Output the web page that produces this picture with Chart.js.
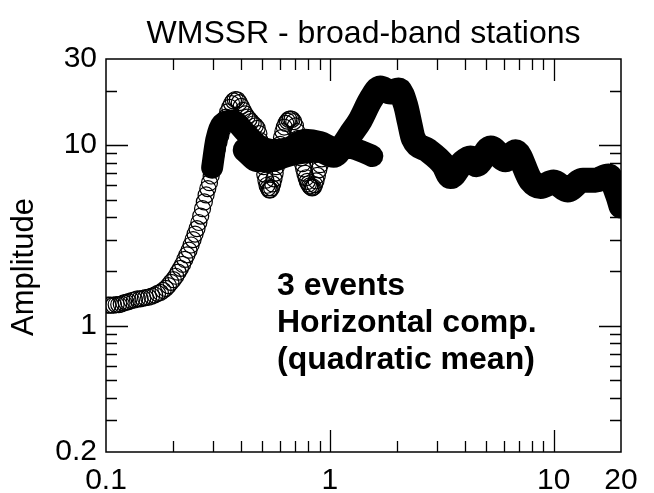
<!DOCTYPE html>
<html>
<head>
<meta charset="utf-8">
<script src="https://cdn.jsdelivr.net/npm/chart.js@4.4.1/dist/chart.umd.min.js"></script>
<style>
  html, body { margin: 0; padding: 0; background: #fff; }
  #graficoAmplitude { display: block; }
</style>
</head>
<body>
<canvas id="graficoAmplitude" width="654" height="493"></canvas>
<script>
// ---------------------------------------------------------------------------
// Dados
// ---------------------------------------------------------------------------
const tituloGrafico = "WMSSR - broad-band stations";
const tituloEixoY = "Amplitude";
const textoNota = ["3 events", "Horizontal comp.", "(quadratic mean)"];

const ticksX = [0.1, 1, 10, 20];
const ticksY = [0.2, 1, 10, 30];

// evento 1: círculos abertos
const freqEvento1 = [0.102, 0.105, 0.108, 0.111, 0.114, 0.117, 0.120, 0.123, 0.126, 0.130,
  0.134, 0.138, 0.142, 0.146, 0.150, 0.155, 0.160, 0.165, 0.170, 0.175,
  0.180, 0.185, 0.190, 0.195, 0.200, 0.205, 0.210, 0.215, 0.220, 0.225,
  0.230, 0.235, 0.240, 0.245, 0.250, 0.255, 0.260, 0.265, 0.270, 0.275,
  0.280, 0.285, 0.290, 0.295, 0.300, 0.305, 0.310, 0.315, 0.320, 0.326,
  0.332, 0.338, 0.344, 0.350, 0.357, 0.364, 0.371, 0.378, 0.386, 0.394,
  0.402, 0.410, 0.418, 0.427, 0.436, 0.445, 0.455, 0.465, 0.474, 0.482,
  0.488, 0.494, 0.500, 0.506, 0.512, 0.518, 0.524, 0.530, 0.536, 0.542,
  0.549, 0.556, 0.563, 0.570, 0.577, 0.584, 0.592, 0.600, 0.608, 0.617,
  0.626, 0.636, 0.646, 0.656, 0.667, 0.678, 0.690, 0.702, 0.713, 0.722,
  0.730, 0.738, 0.746, 0.755, 0.764, 0.773, 0.783, 0.793, 0.803, 0.813,
  0.823, 0.834, 0.845, 0.856, 0.868, 0.880, 0.893, 0.906, 0.920, 0.937, 0.955];
const ampEvento1 = [1.30, 1.30, 1.30, 1.31, 1.31, 1.32, 1.34, 1.35, 1.36, 1.38,
  1.39, 1.41, 1.41, 1.42, 1.43, 1.44, 1.46, 1.48, 1.51, 1.53,
  1.57, 1.61, 1.67, 1.74, 1.80, 1.88, 1.98, 2.08, 2.19, 2.33,
  2.47, 2.62, 2.80, 3.00, 3.22, 3.45, 3.73, 4.05, 4.45, 4.85,
  5.30, 5.75, 6.20, 6.75, 7.35, 8.1, 8.8, 9.6, 10.4, 11.3,
  12.2, 13.2, 14.3, 15.3, 16.2, 17.0, 17.6, 17.9, 17.8, 17.2,
  16.4, 15.6, 14.9, 14.3, 13.9, 13.5, 13.1, 12.8, 12.4, 11.6,
  10.6, 9.5, 8.5, 7.6, 6.9, 6.4, 6.0, 5.8, 5.65, 5.65,
  5.8, 6.1, 6.5, 7.0, 7.6, 8.3, 9.2, 10.1, 11.0, 11.9,
  12.6, 13.2, 13.6, 13.9, 14.0, 13.9, 13.5, 12.8, 11.9, 10.9,
  10.0, 9.2, 8.5, 7.9, 7.4, 7.0, 6.6, 6.3, 6.1, 5.95,
  5.85, 5.8, 5.85, 6.05, 6.35, 6.8, 7.3, 7.8, 8.4, 8.9, 9.4];

// evento 2: faixa preta curta
const freqEvento2 = [0.298, 0.311, 0.330, 0.366, 0.419, 0.479, 0.553, 0.652, 0.777, 0.907, 1.058, 1.235, 1.40, 1.55];
const ampEvento2 = [7.5, 10.7, 13.1, 13.7, 11.8, 10.0, 9.4, 9.65, 10.7, 10.4, 9.65, 9.65, 9.2, 8.7];

// evento 3: faixa preta até 20 Hz
const freqEvento3 = [0.419, 0.479, 0.542, 0.632, 0.738, 0.888, 1.04, 1.15, 1.235, 1.37,
  1.52, 1.68, 1.87, 2.03, 2.18, 2.27, 2.36, 2.73, 3.22, 3.46,
  3.92, 4.25, 4.52, 5.23, 6.10, 6.76, 7.89, 8.75, 10.0, 11.55,
  13.5, 15.4, 17.6, 19.3, 20.0];
const ampEvento3 = [9.4, 8.3, 8.3, 8.8, 9.2, 9.4, 8.8, 10.0, 11.4, 13.8,
  17.8, 20.7, 19.7, 20.2, 16.7, 13.4, 10.9, 9.4, 7.8, 6.7,
  8.0, 8.5, 7.8, 9.65, 8.3, 9.2, 6.4, 5.9, 6.25, 5.65,
  6.4, 6.4, 6.75, 5.3, 4.6];

const pares = (xs, ys) => xs.map((x, i) => ({ x: x, y: ys[i] }));

const FONTE = '"Liberation Sans", Arial, sans-serif';

// ---------------------------------------------------------------------------
// Plugin: moldura, marcas internas e textos
// ---------------------------------------------------------------------------
const molduraPlugin = {
  id: "moldura",
  afterDraw(chart) {
    const ctx = chart.ctx;
    const area = chart.chartArea;
    const sx = chart.scales.x;
    const sy = chart.scales.y;

    ctx.save();
    ctx.strokeStyle = "#000";
    ctx.lineWidth = 1.5;
    ctx.strokeRect(area.left, area.top, area.right - area.left, area.bottom - area.top);

    // marcas no eixo x (baixo e topo)
    ctx.lineWidth = 1.3;
    [0.1, 1, 10].forEach((dec) => {
      for (let m = 1; m <= 9; m++) {
        const v = dec * m;
        if (v <= sx.min || v >= sx.max) continue;
        const px = Math.round(sx.getPixelForValue(v)) + 0.5;
        const len = m === 1 ? 22 : 11;
        ctx.beginPath();
        ctx.moveTo(px, area.bottom);
        ctx.lineTo(px, area.bottom - len);
        ctx.moveTo(px, area.top);
        ctx.lineTo(px, area.top + len);
        ctx.stroke();
      }
    });

    // marcas no eixo y (esquerda e direita)
    [0.1, 1, 10].forEach((dec) => {
      for (let m = 1; m <= 9; m++) {
        const v = dec * m;
        if (v <= sy.min || v >= sy.max) continue;
        const py = Math.round(sy.getPixelForValue(v)) + 0.5;
        const len = m === 1 ? 22 : 11;
        ctx.beginPath();
        ctx.moveTo(area.left, py);
        ctx.lineTo(area.left + len, py);
        ctx.moveTo(area.right, py);
        ctx.lineTo(area.right - len, py);
        ctx.stroke();
      }
    });

    // rótulos
    ctx.fillStyle = "#000";
    ctx.font = "30px " + FONTE;
    ctx.textAlign = "center";
    ctx.textBaseline = "top";
    ticksX.forEach((v) => {
      ctx.fillText(String(v), sx.getPixelForValue(v), area.bottom + 14);
    });
    ctx.textAlign = "right";
    ctx.textBaseline = "middle";
    ticksY.forEach((v) => {
      ctx.fillText(String(v), area.left - 9, sy.getPixelForValue(v));
    });

    // título do eixo y
    ctx.save();
    ctx.translate(24, 267);
    ctx.rotate(-Math.PI / 2);
    ctx.textAlign = "center";
    ctx.textBaseline = "middle";
    ctx.font = "31px " + FONTE;
    ctx.fillText(tituloEixoY, 0, 0);
    ctx.restore();

    // título
    ctx.textAlign = "center";
    ctx.textBaseline = "alphabetic";
    ctx.font = "32px " + FONTE;
    ctx.fillText(tituloGrafico, (area.left + area.right) / 2, 43);

    // nota
    ctx.textAlign = "left";
    ctx.font = "bold 32px " + FONTE;
    textoNota.forEach((linha, i) => {
      ctx.fillText(linha, 277, 295 + i * 37);
    });

    ctx.restore();
  }
};

// ---------------------------------------------------------------------------
// Gráfico
// ---------------------------------------------------------------------------
const ctx = document.getElementById("graficoAmplitude").getContext("2d");

const linhaGrossa = {
  type: "line",
  showLine: true,
  borderColor: "#000",
  borderCapStyle: "round",
  borderJoinStyle: "round",
  cubicInterpolationMode: "monotone",
  pointRadius: 0,
  fill: false
};

new Chart(ctx, {
  type: "scatter",
  data: {
    datasets: [
      Object.assign({ label: "Evento 2", data: pares(freqEvento2, ampEvento2), borderWidth: 22 }, linhaGrossa),
      Object.assign({ label: "Evento 3", data: pares(freqEvento3, ampEvento3), borderWidth: 25 }, linhaGrossa),
      {
        label: "Evento 1",
        data: pares(freqEvento1, ampEvento1),
        showLine: false,
        pointStyle: "circle",
        pointRadius: 8,
        pointBorderWidth: 1.2,
        pointBorderColor: "#000",
        pointBackgroundColor: "rgba(0,0,0,0)"
      }
    ]
  },
  options: {
    responsive: false,
    animation: false,
    devicePixelRatio: 1,
    layout: { padding: { left: 106, right: 33, top: 59, bottom: 41 } },
    plugins: {
      legend: { display: false },
      tooltip: { enabled: false }
    },
    scales: {
      x: {
        type: "logarithmic",
        min: 0.1,
        max: 20,
        ticks: { display: false },
        grid: { display: false, drawTicks: false },
        border: { display: false }
      },
      y: {
        type: "logarithmic",
        min: 0.2,
        max: 30,
        ticks: { display: false },
        grid: { display: false, drawTicks: false },
        border: { display: false }
      }
    }
  },
  plugins: [molduraPlugin]
});
</script>
</body>
</html>
